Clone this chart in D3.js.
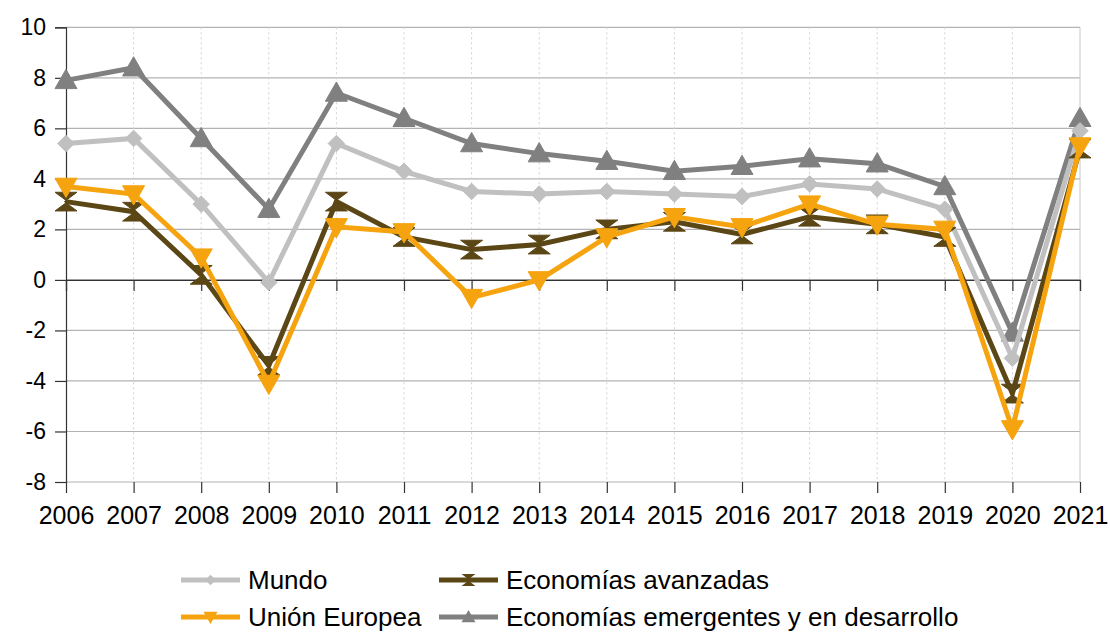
<!DOCTYPE html>
<html><head><meta charset="utf-8">
<script src="https://cdn.jsdelivr.net/npm/d3@7"></script>
<style>body{margin:0;background:#fff;} text{font-family:"Liberation Sans",Arial,sans-serif;}</style>
</head><body><svg id="c" width="1110" height="632"></svg>
<script>
const years = [2006,2007,2008,2009,2010,2011,2012,2013,2014,2015,2016,2017,2018,2019,2020,2021];
const yTicks = [-8,-6,-4,-2,0,2,4,6,8,10];
const mundo = [5.4,5.6,3.0,-0.1,5.4,4.3,3.5,3.4,3.5,3.4,3.3,3.8,3.6,2.8,-3.1,5.9];
const avanzadas = [3.1,2.7,0.2,-3.4,3.1,1.7,1.2,1.4,2.0,2.3,1.8,2.5,2.2,1.7,-4.5,5.2];
const ue = [3.7,3.4,0.9,-4.1,2.1,1.9,-0.7,0.0,1.7,2.5,2.1,3.0,2.2,2.0,-5.9,5.3];
const emergentes = [7.9,8.4,5.6,2.8,7.4,6.4,5.4,5.0,4.7,4.3,4.5,4.8,4.6,3.7,-2.1,6.4];
const seriesNames = ["Mundo","Economías avanzadas","Unión Europea","Economías emergentes y en desarrollo"];

const series = [
  {name:seriesNames[3], values:emergentes, color:"#808080", marker:"up"},
  {name:seriesNames[0], values:mundo, color:"#c0c0c0", marker:"diamond"},
  {name:seriesNames[1], values:avanzadas, color:"#5b4615", marker:"hourglass"},
  {name:seriesNames[2], values:ue, color:"#f5a40f", marker:"down"}
];

const svg = d3.select("#c");
const x = d3.scalePoint().domain(years).range([66,1080]);
const y = d3.scaleLinear().domain([-8,10]).range([482,27.3]);

// horizontal grid
svg.append("g").selectAll("line").data(yTicks).join("line")
  .attr("x1",66).attr("x2",1080).attr("y1",d=>y(d)).attr("y2",d=>y(d))
  .attr("stroke","#b3b3b3").attr("stroke-width",1.2);
// vertical dotted grid
svg.append("g").selectAll("line").data(years.slice(1)).join("line")
  .attr("x1",d=>x(d)).attr("x2",d=>x(d)).attr("y1",y(10)).attr("y2",y(-8))
  .attr("stroke",(d,i)=> i===years.length-2 ? "#c8c8c8":"#d0d0d0")
  .attr("stroke-dasharray",(d,i)=> i===years.length-2 ? null : "2,3")
  .attr("stroke-width",1);

const fmt = d => String(d);
// y axis
const yAxis = d3.axisLeft(y).tickValues(yTicks).tickSize(11).tickPadding(9).tickFormat(fmt);
const gy = svg.append("g").attr("transform","translate(66,0)").call(yAxis);
gy.select(".domain").attr("stroke","#333").attr("stroke-width",1.2);
gy.selectAll(".tick line").attr("stroke","#333").attr("stroke-width",1.2);
gy.selectAll("text").attr("font-size",23).attr("fill","#000").attr("font-family","Liberation Sans, Arial, sans-serif");

// x axis at y=0
const xAxis = d3.axisBottom(x).tickSize(11).tickFormat(d=>"");
const gx = svg.append("g").attr("transform",`translate(0,${y(0)})`).call(xAxis);
gx.select(".domain").attr("stroke","#333").attr("stroke-width",1.2);
gx.selectAll(".tick line").attr("stroke","#333").attr("stroke-width",1.2);
// x ticks at bottom + labels
const xAxisB = d3.axisBottom(x).tickSize(11).tickPadding(13).tickFormat(fmt);
const gxb = svg.append("g").attr("transform",`translate(0,${y(-8)})`).call(xAxisB);
gxb.select(".domain").remove();
gxb.selectAll(".tick line").attr("stroke","#333").attr("stroke-width",1.2);
gxb.selectAll("text").attr("font-size",25).attr("fill","#000").attr("font-family","Liberation Sans, Arial, sans-serif");

function markerPath(type, s){
  if(type==="up") return `M0,${-s}L${s*1.0},${s*0.75}L${-s*1.0},${s*0.75}Z`;
  if(type==="down") return `M0,${s}L${s*1.0},${-s*0.75}L${-s*1.0},${-s*0.75}Z`;
  if(type==="diamond") return `M0,${-s*0.75}L${s*0.75},0L0,${s*0.75}L${-s*0.75},0Z`;
  if(type==="hourglass") return `M${-s},${-s*0.85}L${s},${-s*0.85}L${-s*0.15},0L${s},${s*0.85}L${-s},${s*0.85}L${s*0.15},0Z`;
}

const line = d3.line().x((d,i)=>x(years[i])).y(d=>y(d));
series.forEach(s=>{
  const g = svg.append("g");
  g.append("path").datum(s.values).attr("d",line).attr("fill","none")
    .attr("stroke",s.color).attr("stroke-width",5).attr("stroke-linejoin","miter").attr("stroke-miterlimit",10);
  g.selectAll("path.m").data(s.values).join("path").attr("class","m")
    .attr("transform",(d,i)=>`translate(${x(years[i])},${y(d)})`)
    .attr("d",markerPath(s.marker,11)).attr("fill",s.color).attr("stroke",s.color).attr("stroke-width",1);
});

// legend
const legendItems = [
  {s:series[1], lx:181, ty:580},
  {s:series[2], lx:439, ty:580},
  {s:series[3], lx:181, ty:617},
  {s:series[0], lx:439, ty:617}
];
const lg = svg.append("g");
legendItems.forEach(it=>{
  lg.append("line").attr("x1",it.lx).attr("x2",it.lx+59).attr("y1",it.ty).attr("y2",it.ty)
    .attr("stroke",it.s.color).attr("stroke-width",5);
  lg.append("path").attr("transform",`translate(${it.lx+29.5},${it.ty})`)
    .attr("d",markerPath(it.s.marker,7)).attr("fill",it.s.color);
  lg.append("text").attr("x",it.lx+67).attr("y",it.ty).attr("dy","0.35em")
    .attr("font-size",26).attr("fill","#000").text(it.s.name);
});
</script></body></html>
